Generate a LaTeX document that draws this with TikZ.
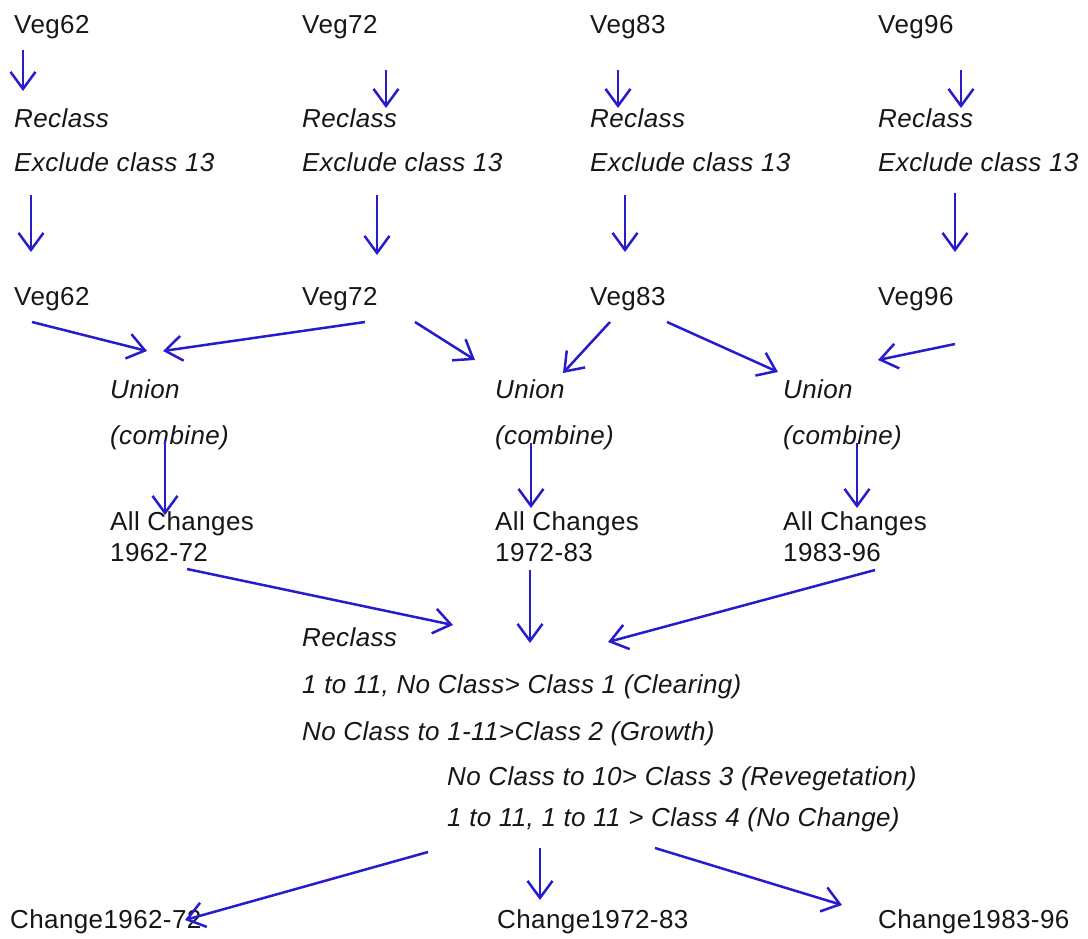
\documentclass[tikz,border=0pt]{standalone}
\usepackage{fontspec}
\setmainfont{Liberation Sans}[LetterSpace=1.5]
\usetikzlibrary{arrows.meta}
\definecolor{flowblue}{RGB}{38,28,205}
\definecolor{ink}{RGB}{22,22,22}
\begin{document}
\begin{tikzpicture}[x=1pt,y=-1pt,
  lbl/.style={anchor=base west,inner sep=0pt,text=ink,font=\fontsize{26}{31}\selectfont},
  op/.style={lbl,font=\fontsize{26}{31}\selectfont\itshape},
  flow/.style={draw=flowblue,line width=2.5pt,-{Straight Barb[length=17pt,width=25pt,line width=2.5pt]}}]
\useasboundingbox[fill=white] (0,0) rectangle (1088,938);

% input layers
\node[lbl] (in62) at (14,33) {Veg62};
\node[lbl] (in72) at (302,33) {Veg72};
\node[lbl] (in83) at (590,33) {Veg83};
\node[lbl] (in96) at (878,33) {Veg96};

% reclass step on each layer
\foreach \n/\x in {62/14,72/302,83/590,96/878}{
  \node[op] (rc\n) at (\x,127) {Reclass};
  \node[op] (ex\n) at (\x,171) {Exclude class 13};
}

% reclassed layers
\node[lbl] (out62) at (14,305) {Veg62};
\node[lbl] (out72) at (302,305) {Veg72};
\node[lbl] (out83) at (590,305) {Veg83};
\node[lbl] (out96) at (878,305) {Veg96};

% union steps
\foreach \n/\x in {a/110,b/495,c/783}{
  \node[op] (un\n) at (\x,398) {Union};
  \node[op] (cb\n) at (\x,444) {(combine)};
}

% combined change layers
\foreach \n/\x/\yr in {1/110/1962-72,2/495/1972-83,3/783/1983-96}{
  \node[lbl] (all\n) at (\x,530) {All Changes};
  \node[lbl] (yr\n) at (\x,561) {\yr};
}

% final reclass rules
\node[op] (rcf) at (302,646) {Reclass};
\node[op] (r1) at (302,693) {1 to 11, No Class> Class 1 (Clearing)};
\node[op] (r2) at (302,740) {No Class to 1-11>Class 2 (Growth)};
\node[op] (r3) at (447,785) {No Class to 10> Class 3 (Revegetation)};
\node[op] (r4) at (447,826) {1 to 11, 1 to 11 > Class 4 (No Change)};

% results
\node[lbl] (ch1) at (10,928) {Change1962-72};
\node[lbl] (ch2) at (497,928) {Change1972-83};
\node[lbl] (ch3) at (878,928) {Change1983-96};

% arrow end points
\coordinate (a1s) at (23,50);   \coordinate (a1e) at (23,91);
\coordinate (a2s) at (386,70);  \coordinate (a2e) at (386,108);
\coordinate (a3s) at (618,70);  \coordinate (a3e) at (618,108);
\coordinate (a4s) at (961,70);  \coordinate (a4e) at (961,108);
\coordinate (b1s) at (31,195);  \coordinate (b1e) at (31,252);
\coordinate (b2s) at (377,195); \coordinate (b2e) at (377,255);
\coordinate (b3s) at (625,195); \coordinate (b3e) at (625,252);
\coordinate (b4s) at (955,193); \coordinate (b4e) at (955,252);
\coordinate (c1s) at (32,322);  \coordinate (c1e) at (147,351);
\coordinate (c2s) at (365,322); \coordinate (c2e) at (163,351);
\coordinate (c3s) at (415,322); \coordinate (c3e) at (475,360);
\coordinate (c4s) at (610,322); \coordinate (c4e) at (563,373);
\coordinate (c5s) at (667,322); \coordinate (c5e) at (778,372);
\coordinate (c6s) at (955,344); \coordinate (c6e) at (878,360);
\coordinate (d1s) at (165,440); \coordinate (d1e) at (165,515);
\coordinate (d2s) at (531,443); \coordinate (d2e) at (531,508);
\coordinate (d3s) at (857,443); \coordinate (d3e) at (857,508);
\coordinate (e1s) at (187,569); \coordinate (e1e) at (453,625);
\coordinate (e2s) at (530,570); \coordinate (e2e) at (530,643);
\coordinate (e3s) at (875,570); \coordinate (e3e) at (608,642);
\coordinate (f1s) at (428,852); \coordinate (f1e) at (185,920);
\coordinate (f2s) at (540,848); \coordinate (f2e) at (540,900);
\coordinate (f3s) at (655,848); \coordinate (f3e) at (842,905);

% connectors
\foreach \k in {a1,a2,a3,a4,b1,b2,b3,b4,c1,c2,c3,c4,c5,c6,d1,d2,d3,e1,e2,e3,f1,f2,f3}
  \draw[flow] (\k s) -- (\k e);
\end{tikzpicture}
\end{document}
